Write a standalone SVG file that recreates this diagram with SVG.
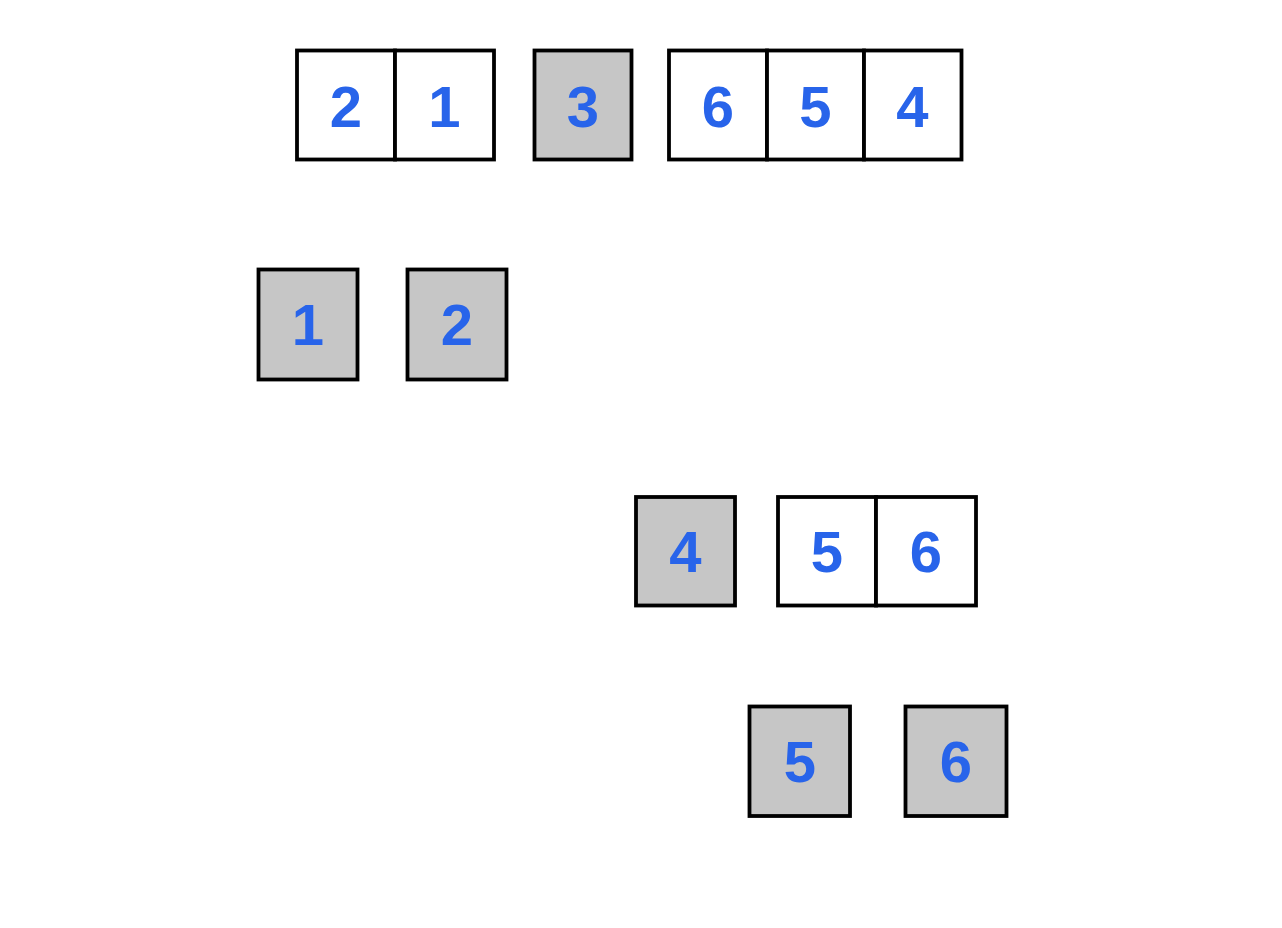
<svg xmlns="http://www.w3.org/2000/svg" width="1282" height="928" viewBox="0 0 1282 928">
<style>
.cell{fill:#ffffff;stroke:#000000;stroke-width:3.8}
.sel{fill:#c6c6c6;stroke:#000000;stroke-width:3.8}
.num{font-family:"Liberation Sans",Arial,sans-serif;font-weight:bold;font-size:58px;fill:#2864ea;text-anchor:middle}
</style>
<rect width="1282" height="928" fill="#ffffff"/>
<g id="row1-left">
<rect class="cell" x="297" y="50.5" width="98" height="109"/>
<rect class="cell" x="395" y="50.5" width="99" height="109"/>
<text class="num" x="346" y="127">2</text>
<text class="num" x="444.5" y="127">1</text>
</g>
<g id="pivot3">
<rect class="sel" x="534.5" y="50.5" width="97" height="109"/>
<text class="num" x="583" y="127">3</text>
</g>
<g id="row1-right">
<rect class="cell" x="669" y="50.5" width="98" height="109"/>
<rect class="cell" x="767" y="50.5" width="97" height="109"/>
<rect class="cell" x="864" y="50.5" width="97.5" height="109"/>
<text class="num" x="718" y="127">6</text>
<text class="num" x="815.5" y="127">5</text>
<text class="num" x="912.5" y="127">4</text>
</g>
<g id="node1">
<rect class="sel" x="258.5" y="269.5" width="99" height="110"/>
<text class="num" x="308" y="345">1</text>
</g>
<g id="node2">
<rect class="sel" x="407.5" y="269.5" width="99" height="110"/>
<text class="num" x="457" y="345">2</text>
</g>
<g id="node4">
<rect class="sel" x="636" y="497" width="99" height="108.5"/>
<text class="num" x="685.5" y="572">4</text>
</g>
<g id="row3-right">
<rect class="cell" x="778" y="497" width="98" height="108.5"/>
<rect class="cell" x="876" y="497" width="100" height="108.5"/>
<text class="num" x="827" y="572">5</text>
<text class="num" x="926" y="572">6</text>
</g>
<g id="node5">
<rect class="sel" x="749.5" y="706.5" width="100.5" height="109.5"/>
<text class="num" x="800" y="782">5</text>
</g>
<g id="node6">
<rect class="sel" x="905.5" y="706.5" width="101" height="109.5"/>
<text class="num" x="956" y="782">6</text>
</g>
<g id="connectors"></g>
</svg>
